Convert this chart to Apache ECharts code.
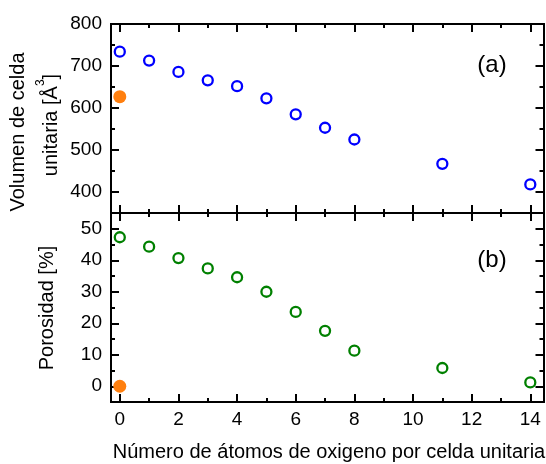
<!DOCTYPE html>
<html>
<head>
<meta charset="utf-8">
<script src="https://cdn.jsdelivr.net/npm/echarts@6/dist/echarts.min.js"></script>
<style>
  html, body { margin: 0; padding: 0; background: #fff; }
  #chart { width: 546px; height: 464px; }
</style>
</head>
<body>
<div id="chart"></div>
<script>
// Oxygen atoms per unit cell
const oxigenos = [0, 1, 2, 3, 4, 5, 6, 7, 8, 11, 14];
// Unit cell volume (Å³)
const volumen = [734, 713, 686, 666, 652, 623, 585, 553, 525, 467, 418];
// Porosity (%)
const porosidad = [47.3, 44.3, 40.7, 37.4, 34.6, 30.0, 23.6, 17.6, 11.3, 5.8, 1.2];
// Reference (filled) points
const refVolumen = [[0, 627]];
const refPorosidad = [[0, 0]];

// Axis tick positions
const xMajor = [0, 2, 4, 6, 8, 10, 12, 14];
const xMinor = [1, 3, 5, 7, 9, 11, 13];
const volMajor = [400, 500, 600, 700, 800];
const volMinor = [350, 450, 550, 650, 750];
const porMajor = [0, 10, 20, 30, 40, 50];
const porMinor = [-5, 5, 15, 25, 35, 45, 55];

const FONT = '"Liberation Sans", Arial, sans-serif';
const LINE = { color: '#000', width: 2 };

const chart = echarts.init(document.getElementById('chart'), null, { renderer: 'canvas' });

const L = 111, W = 432.5, H = 189;
const panelTops = [24, 213];

// Two grids per panel: one carries major ticks and the data, the other the minor ticks
const grids = [];
panelTops.forEach(t => {
  grids.push({ left: L, top: t, width: W, height: H, containLabel: false });
  grids.push({ left: L, top: t, width: W, height: H, containLabel: false });
});

function makeAxis(kind, grid, pos, min, max, ticks, len, labels) {
  return {
    type: 'value',
    gridIndex: grid,
    position: pos,
    min: min,
    max: max,
    axisLine: { show: true, onZero: false, lineStyle: LINE },
    axisTick: { show: true, inside: true, length: len, customValues: ticks, lineStyle: LINE },
    axisLabel: labels ? {
      show: true, customValues: ticks, margin: kind === 'x' ? 8 : 9,
      color: '#000', fontSize: 19, fontFamily: FONT
    } : { show: false },
    splitLine: { show: false },
    minorTick: { show: false }
  };
}

const xAxes = [];
const yAxes = [];
const yRanges = [[350, 800, volMajor, volMinor], [-5, 55, porMajor, porMinor]];
yRanges.forEach((r, p) => {
  const gMaj = p * 2, gMin = p * 2 + 1;
  const xLabels = p === 1;
  xAxes.push(makeAxis('x', gMaj, 'bottom', -0.3, 14.45, xMajor, 8, xLabels));
  xAxes.push(makeAxis('x', gMaj, 'top', -0.3, 14.45, xMajor, 8, false));
  xAxes.push(makeAxis('x', gMin, 'bottom', -0.3, 14.45, xMinor, 4, false));
  xAxes.push(makeAxis('x', gMin, 'top', -0.3, 14.45, xMinor, 4, false));
  yAxes.push(makeAxis('y', gMaj, 'left', r[0], r[1], r[2], 8, true));
  yAxes.push(makeAxis('y', gMaj, 'right', r[0], r[1], r[2], 8, false));
  yAxes.push(makeAxis('y', gMin, 'left', r[0], r[1], r[3], 4, false));
  yAxes.push(makeAxis('y', gMin, 'right', r[0], r[1], r[3], 4, false));
});

const zip = (xs, ys) => xs.map((x, i) => [x, ys[i]]);

const openCircle = (color) => ({
  type: 'scatter', symbol: 'circle', symbolSize: 10,
  itemStyle: { color: '#fff', borderColor: color, borderWidth: 2.3, opacity: 1 },
  emphasis: { disabled: true }, z: 5
});
const filledCircle = {
  type: 'scatter', symbol: 'circle', symbolSize: 13,
  itemStyle: { color: '#ff7f0e', borderWidth: 0, opacity: 1 },
  emphasis: { disabled: true }, z: 5
};

const series = [
  Object.assign({ xAxisIndex: 0, yAxisIndex: 0, data: zip(oxigenos, volumen) }, openCircle('#0000ff')),
  Object.assign({ xAxisIndex: 0, yAxisIndex: 0, data: refVolumen }, filledCircle),
  Object.assign({ xAxisIndex: 4, yAxisIndex: 4, data: zip(oxigenos, porosidad) }, openCircle('#008000')),
  Object.assign({ xAxisIndex: 4, yAxisIndex: 4, data: refPorosidad }, filledCircle)
];

const txt = (text, x, y, size, rot) => ({
  type: 'text', x: x, y: y, rotation: rot || 0, silent: true,
  style: { text: text, fill: '#000', font: size + 'px ' + FONT, align: 'center', verticalAlign: 'middle' }
});

const graphic = [
  txt('Volumen de celda', 18, 132, 20, Math.PI / 2),
  {
    type: 'text', x: 48, y: 125, rotation: Math.PI / 2, silent: true,
    style: {
      text: '{n|unitaria [Å}{s|3}{n|]}',
      align: 'center', verticalAlign: 'middle',
      rich: {
        n: { fontSize: 20, fontFamily: FONT, fill: '#000', lineHeight: 26, verticalAlign: 'bottom' },
        s: { fontSize: 12, fontFamily: FONT, fill: '#000', lineHeight: 26, verticalAlign: 'top' }
      }
    }
  },
  txt('Porosidad [%]', 47.5, 308, 20, Math.PI / 2),
  txt('Número de átomos de oxigeno por celda unitaria', 329, 452, 20),
  txt('(a)', 492, 65, 24),
  txt('(b)', 492, 260, 24)
];

chart.setOption({
  animation: false,
  backgroundColor: '#fff',
  textStyle: { fontFamily: FONT },
  grid: grids,
  xAxis: xAxes,
  yAxis: yAxes,
  series: series,
  graphic: graphic
});
</script>
</body>
</html>
